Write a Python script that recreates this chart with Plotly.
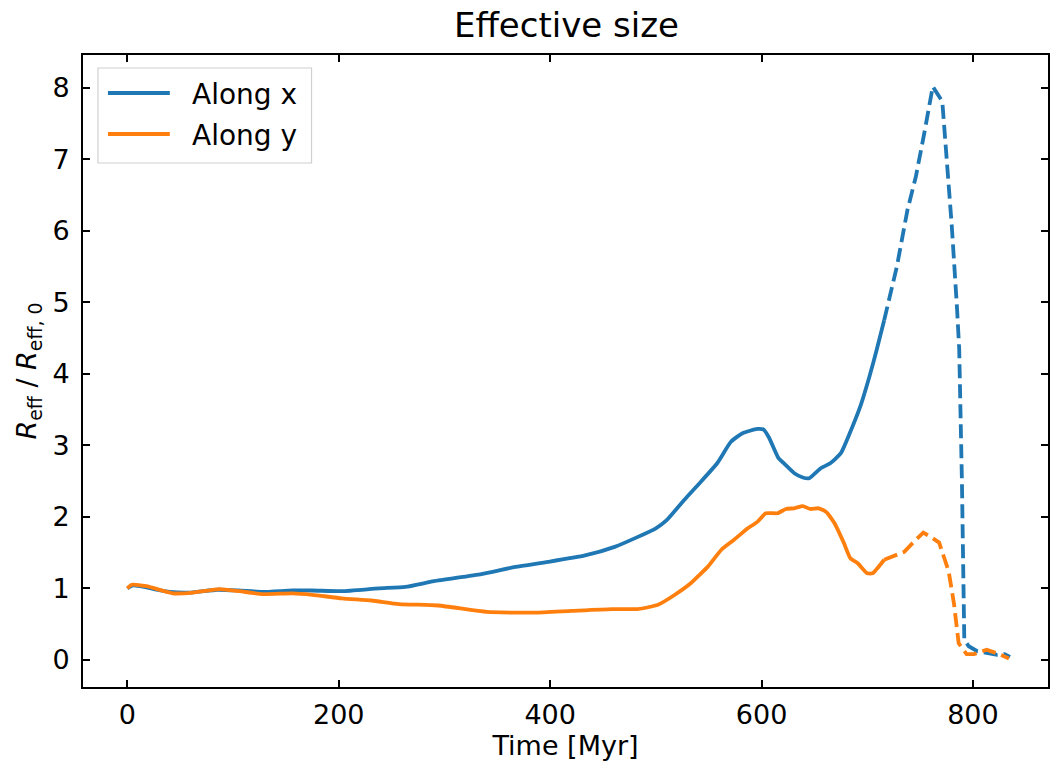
import plotly.graph_objects as go

# Effective radius normalised to its initial value, measured along x and y
time_x = [0, 5, 12, 25, 40, 60, 85, 105, 128, 156, 175, 203, 238, 263, 290, 335,
          367, 398, 433, 461, 483, 500, 510, 527, 540, 558, 571, 582, 596, 602,
          607, 616, 621, 631, 639, 645, 656, 665, 675, 684, 694, 702, 709, 716,
          728, 738, 746, 754, 762, 771, 775.5, 780, 785, 787, 789.6, 791.8, 796,
          804, 823, 830, 835]
reff_x = [1.00, 1.04, 1.03, 0.99, 0.95, 0.94, 0.98, 0.97, 0.95, 0.97, 0.97, 0.96,
          1.00, 1.02, 1.10, 1.20, 1.30, 1.37, 1.46, 1.58, 1.72, 1.84, 1.95, 2.24,
          2.45, 2.75, 3.05, 3.17, 3.23, 3.22, 3.11, 2.82, 2.75, 2.61, 2.55, 2.54,
          2.68, 2.75, 2.89, 3.19, 3.57, 3.96, 4.34, 4.75, 5.50, 6.29, 6.76, 7.37,
          8.02, 7.81, 6.99, 6.06, 4.90, 4.34, 2.47, 0.28, 0.19, 0.12, 0.07, 0.08,
          0.04]

time_y = [0, 4, 18, 43, 62, 87, 106, 128, 156, 175, 203, 231, 257, 294, 340, 385,
          420, 458, 483, 502, 518, 533, 540, 549, 562, 574, 587, 596, 604, 615,
          623, 631, 639, 646, 654, 661, 669, 678, 684, 691, 700, 705, 716, 735,
          744, 753, 760, 768, 777, 782, 786.5, 794, 801, 813, 823, 834]
reff_y = [1.00, 1.05, 1.03, 0.93, 0.94, 0.99, 0.96, 0.92, 0.93, 0.91, 0.86, 0.83,
          0.78, 0.76, 0.67, 0.66, 0.685, 0.71, 0.71, 0.77, 0.91, 1.07, 1.17, 1.30,
          1.54, 1.68, 1.84, 1.93, 2.05, 2.05, 2.11, 2.12, 2.15, 2.11, 2.12, 2.07,
          1.91, 1.63, 1.42, 1.35, 1.21, 1.21, 1.40, 1.51, 1.65, 1.78, 1.72, 1.64,
          1.24, 0.79, 0.23, 0.08, 0.08, 0.14, 0.09, 0.02]

# After this time the measurement is less reliable and is drawn dashed
t_dashed = 716

series_names = ["Along x", "Along y"]
series_colors = ["#1f77b4", "#ff7f0e"]

x_ticks = [0, 200, 400, 600, 800]
y_ticks = [0, 1, 2, 3, 4, 5, 6, 7, 8]

FONT = "DejaVu Sans"
FS = 27
LW = 3.8

fig = go.Figure()

for t, r, color in [(time_x, reff_x, series_colors[0]), (time_y, reff_y, series_colors[1])]:
    solid_t = [a for a in t if a <= t_dashed]
    solid_r = r[:len(solid_t)]
    dash_t = t[len(solid_t) - 1:]
    dash_r = r[len(solid_t) - 1:]
    fig.add_trace(go.Scatter(x=solid_t, y=solid_r, mode="lines",
                             line=dict(color=color, width=LW, shape="spline",
                                       smoothing=0.5),
                             showlegend=False))
    fig.add_trace(go.Scatter(x=dash_t, y=dash_r, mode="lines",
                             line=dict(color=color, width=LW, dash="14px,6px"),
                             showlegend=False))

# Plot area in pixels: x 83..1050, y 55..687
L, R, T, B = 83, 1050, 55, 687
W, H = R - L, B - T


def px(x):
    return (x - L) / W


def py(y):
    return (B - y) / H


shapes = [
    dict(type="rect", xref="paper", yref="paper",
         x0=px(98), x1=px(312), y0=py(163), y1=py(68),
         line=dict(color="#d0d0d0", width=1.2), fillcolor="rgba(255,255,255,0.8)",
         layer="above"),
]
annotations = []
for i, (name, color) in enumerate(zip(series_names, series_colors)):
    yc = 93 + 41 * i
    shapes.append(dict(type="line", xref="paper", yref="paper",
                       x0=px(108), x1=px(170), y0=py(yc), y1=py(yc),
                       line=dict(color=color, width=LW), layer="above"))
    annotations.append(dict(x=px(190), y=py(yc + 1), xref="paper", yref="paper",
                            text=name, showarrow=False, xanchor="left",
                            yanchor="middle",
                            font=dict(family=FONT, size=28, color="black")))

axis_common = dict(
    showline=True, linecolor="black", linewidth=1.8, mirror="ticks",
    ticks="inside", ticklen=7, tickwidth=1.6, tickcolor="black",
    showgrid=False, zeroline=False,
    tickfont=dict(family=FONT, size=FS, color="black"),
)

fig.update_layout(
    width=1053, height=764,
    margin=dict(l=L, r=1053 - R, t=T, b=764 - B),
    paper_bgcolor="white", plot_bgcolor="white",
    title=dict(text="Effective size", x=0.5 * (L + R) / 1053, xanchor="center",
               y=1 - 25 / 764, yanchor="middle",
               font=dict(family=FONT, size=34, color="black")),
    xaxis=dict(range=[-42, 871], tickvals=x_ticks, ticklabelstandoff=3,
               title=dict(text="Time [Myr]", standoff=6,
                          font=dict(family=FONT, size=FS, color="black")),
               **axis_common),
    yaxis=dict(range=[-0.38, 8.46], tickvals=y_ticks, ticklabelstandoff=6,
               title=dict(text="<i>R</i><sub>eff</sub> / <i>R</i><sub>eff, 0</sub>",
                          standoff=8,
                          font=dict(family=FONT, size=FS, color="black")),
               **axis_common),
    shapes=shapes,
    annotations=annotations,
)

fig.write_html("out.html")
